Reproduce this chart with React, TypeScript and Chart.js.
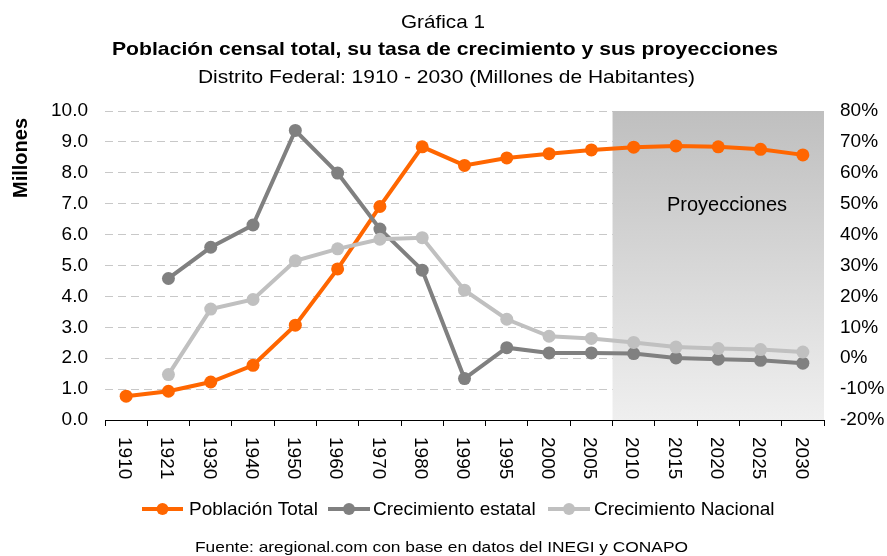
import React, { useEffect, useRef } from 'react';
import { Chart, registerables } from 'chart.js';

Chart.register(...registerables);

// ---------------- data ----------------
const years = ['1910', '1921', '1930', '1940', '1950', '1960', '1970', '1980', '1990', '1995', '2000', '2005', '2010', '2015', '2020', '2025', '2030'];
const poblacionTotal = [0.77, 0.93, 1.23, 1.77, 3.07, 4.89, 6.91, 8.84, 8.24, 8.48, 8.62, 8.74, 8.83, 8.87, 8.84, 8.76, 8.58];
const crecimientoEstatal = [null, 25.8, 35.9, 43.1, 73.7, 59.9, 41.8, 28.5, -6.6, 3.4, 1.7, 1.7, 1.5, 0.1, -0.3, -0.7, -1.6];
const crecimientoNacional = [null, -5.3, 15.9, 19.0, 31.5, 35.4, 38.5, 39.0, 22.0, 12.6, 7.1, 6.4, 5.1, 3.6, 3.1, 2.8, 2.0];
const leftTicks = [0, 1, 2, 3, 4, 5, 6, 7, 8, 9, 10];
const rightTicks = [-20, -10, 0, 10, 20, 30, 40, 50, 60, 70, 80];
const projectionStart = '2010';

const seriesNames = ['Población Total', 'Crecimiento estatal', 'Crecimiento Nacional'];
const seriesColors = ['#FF6600', '#808080', '#C0C0C0'];

const FONT = '"Liberation Sans", Arial, Helvetica, sans-serif';

type TxtOpts = {
  size: number;
  bold?: boolean;
  align?: CanvasTextAlign;
  baseline?: CanvasTextBaseline;
  color?: string;
  sx?: number;
  width?: number;
  rot?: number;
};

function txt(ctx: CanvasRenderingContext2D, s: string, x: number, y: number, o: TxtOpts) {
  ctx.save();
  ctx.font = `${o.bold ? 'bold ' : ''}${o.size}px ${FONT}`;
  let sx = o.sx ?? 1;
  if (o.width) sx = o.width / ctx.measureText(s).width;
  ctx.translate(x, y);
  if (o.rot) ctx.rotate(o.rot);
  ctx.scale(sx, 1);
  ctx.textAlign = o.align ?? 'left';
  ctx.textBaseline = o.baseline ?? 'alphabetic';
  ctx.fillStyle = o.color ?? '#000';
  ctx.fillText(s, 0, 0);
  ctx.restore();
}

const shadePlugin = {
  id: 'shade',
  beforeDatasetsDraw(chart: any) {
    const { ctx, chartArea, scales } = chart;
    const x = scales.x;
    const i = years.indexOf(projectionStart);
    const xs = (x.getPixelForValue(i - 1) + x.getPixelForValue(i)) / 2;
    const g = ctx.createLinearGradient(0, chartArea.top, 0, chartArea.bottom);
    g.addColorStop(0, '#bfbfbf');
    g.addColorStop(1, '#efefef');
    ctx.save();
    ctx.fillStyle = g;
    ctx.fillRect(xs, chartArea.top, chartArea.right - xs, chartArea.bottom - chartArea.top);
    ctx.restore();
    txt(ctx, 'Proyecciones', 727, 211, { size: 20, align: 'center' });
  },
};

const textPlugin = {
  id: 'texts',
  afterDraw(chart: any) {
    const { ctx, scales } = chart;
    // titles
    txt(ctx, 'Gráfica 1', 443, 28, { size: 19, align: 'center', sx: 1.09 });
    txt(ctx, 'Población censal total, su tasa de crecimiento y sus proyecciones', 445, 55, { size: 19, bold: true, align: 'center', width: 666 });
    txt(ctx, 'Distrito Federal: 1910 - 2030 (Millones de Habitantes)', 446.5, 83, { size: 19, align: 'center', width: 497 });

    // left axis labels
    leftTicks.forEach((v) => {
      txt(ctx, v.toFixed(1), 88, scales.y.getPixelForValue(v), { size: 19, align: 'right', baseline: 'middle' });
    });
    // right axis labels
    rightTicks.forEach((v) => {
      txt(ctx, `${v}%`, 840, scales.y1.getPixelForValue(v), { size: 19, align: 'left', baseline: 'middle' });
    });
    // x labels rotated clockwise
    years.forEach((yr, i) => {
      txt(ctx, yr, scales.x.getPixelForValue(i) - 2, 437, { size: 19, align: 'left', baseline: 'middle', rot: Math.PI / 2 });
    });
    // axis title
    txt(ctx, 'Millones', 21, 158, { size: 20, bold: true, align: 'center', baseline: 'middle', rot: -Math.PI / 2 });

    // legend
    const legendItems = [
      { x1: 142, x2: 183, tx: 189 },
      { x1: 328, x2: 370, tx: 373 },
      { x1: 548, x2: 590, tx: 594 },
    ];
    const ly = 509;
    legendItems.forEach((it, i) => {
      ctx.save();
      ctx.strokeStyle = seriesColors[i];
      ctx.lineWidth = 4;
      ctx.beginPath();
      ctx.moveTo(it.x1, ly);
      ctx.lineTo(it.x2, ly);
      ctx.stroke();
      ctx.fillStyle = seriesColors[i];
      ctx.beginPath();
      ctx.arc((it.x1 + it.x2) / 2, ly, 6, 0, Math.PI * 2);
      ctx.fill();
      ctx.restore();
      txt(ctx, seriesNames[i], it.tx, 515, { size: 19 });
    });

    // source
    txt(ctx, 'Fuente: aregional.com con base en datos del INEGI y CONAPO', 441.5, 552, { size: 15, align: 'center', width: 493 });
  },
};

export default function App() {
  const ref = useRef<HTMLCanvasElement>(null);

  useEffect(() => {
    if (!ref.current) return;
    const mk = (name: string, data: (number | null)[], color: string, axis: string, order: number) => ({
      label: name,
      data,
      yAxisID: axis,
      borderColor: color,
      backgroundColor: color,
      pointBackgroundColor: color,
      pointBorderColor: color,
      borderWidth: 4,
      pointRadius: 6.5,
      pointBorderWidth: 0,
      tension: 0,
      order,
    });
    const chart = new Chart(ref.current, {
      type: 'line',
      data: {
        labels: years,
        datasets: [
          mk(seriesNames[0], poblacionTotal, seriesColors[0], 'y', 3),
          mk(seriesNames[1], crecimientoEstatal, seriesColors[1], 'y1', 2),
          mk(seriesNames[2], crecimientoNacional, seriesColors[2], 'y1', 1),
        ],
      },
      options: {
        responsive: false,
        animation: false,
        devicePixelRatio: 1,
        layout: { padding: { top: 111, bottom: 0, left: 0, right: 0 } },
        plugins: { legend: { display: false }, tooltip: { enabled: false }, title: { display: false } },
        scales: {
          x: {
            type: 'category',
            offset: true,
            ticks: { display: false },
            grid: { display: true, drawOnChartArea: false, drawTicks: true, tickLength: 6, color: '#000', offset: true },
            border: { display: true, color: '#000', width: 1 },
            afterFit: (s: any) => { s.height = 136; },
          },
          y: {
            position: 'left',
            min: 0,
            max: 10,
            ticks: { display: false, stepSize: 1 },
            grid: { display: true, drawTicks: false, color: '#c8c8c8', lineWidth: 1 },
            border: { display: false, dash: [8, 5] },
            afterFit: (s: any) => { s.width = 105; },
          },
          y1: {
            position: 'right',
            min: -20,
            max: 80,
            ticks: { display: false, stepSize: 10 },
            grid: { display: false },
            border: { display: false },
            afterFit: (s: any) => { s.width = 63; },
          },
        },
      } as any,
      plugins: [shadePlugin, textPlugin],
    });
    return () => chart.destroy();
  }, []);

  return (
    <div style={{ position: 'fixed', left: 0, top: 0, width: 887, height: 556, background: '#fff' }}>
      <canvas ref={ref} width={887} height={556} style={{ width: 887, height: 556, display: 'block' }} />
    </div>
  );
}
